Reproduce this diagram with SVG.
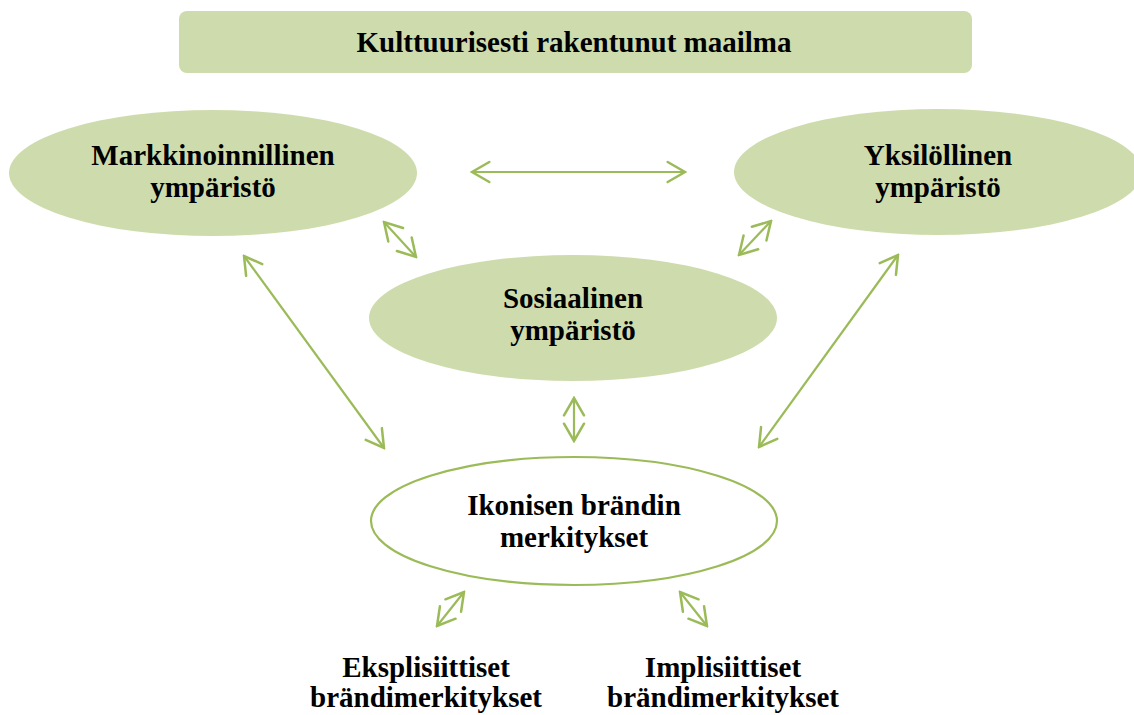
<svg xmlns="http://www.w3.org/2000/svg" width="1134" height="715" viewBox="0 0 1134 715">
  <style>
    .lbl { font-family: "Liberation Serif", "Times New Roman", serif; font-weight: bold; font-size: 29px; fill: #000; text-anchor: middle; }
    .env { fill: #cedcad; stroke: none; }
    .core { fill: #ffffff; stroke: #9bbb59; stroke-width: 2.2; }
    .link { stroke: #9bbb59; stroke-width: 2.2; fill: none; marker-start: url(#head); marker-end: url(#head); }
  </style>
  <defs>
    <marker id="head" markerUnits="userSpaceOnUse" viewBox="-20 -12 22 24" markerWidth="22" markerHeight="24" refX="0" refY="0" orient="auto-start-reverse">
      <path d="M-17.3,-10 L0,0 L-17.3,10" fill="none" stroke="#9bbb59" stroke-width="2.5" stroke-linecap="round" stroke-linejoin="miter"/>
    </marker>
  </defs>
  <rect width="1134" height="715" fill="#ffffff"/>

  <g id="world">
    <rect x="179" y="11" width="793" height="62" rx="8" class="env"/>
    <text class="lbl" x="574" y="52">Kulttuurisesti rakentunut maailma</text>
  </g>

  <g id="marketing">
    <ellipse cx="213" cy="173" rx="204" ry="63" class="env"/>
    <text class="lbl" x="213" y="165">Markkinoinnillinen</text>
    <text class="lbl" x="213" y="197">ympäristö</text>
  </g>

  <g id="individual">
    <ellipse cx="938" cy="172" rx="204" ry="63" class="env"/>
    <text class="lbl" x="938" y="165">Yksilöllinen</text>
    <text class="lbl" x="938" y="197">ympäristö</text>
  </g>

  <g id="social">
    <ellipse cx="573" cy="318" rx="204" ry="63" class="env"/>
    <text class="lbl" x="573" y="308">Sosiaalinen</text>
    <text class="lbl" x="573" y="340">ympäristö</text>
  </g>

  <g id="brand-meanings">
    <ellipse cx="574" cy="521" rx="203" ry="64" class="core"/>
    <text class="lbl" x="574" y="515">Ikonisen brändin</text>
    <text class="lbl" x="574" y="547">merkitykset</text>
  </g>

  <g id="explicit">
    <text class="lbl" x="426" y="677">Eksplisiittiset</text>
    <text class="lbl" x="426" y="707">brändimerkitykset</text>
  </g>

  <g id="implicit">
    <text class="lbl" x="723" y="677">Implisiittiset</text>
    <text class="lbl" x="723" y="707">brändimerkitykset</text>
  </g>

  <g id="connectors">
    <line class="link" x1="472" y1="172" x2="685" y2="172"/>
    <line class="link" x1="384" y1="222" x2="416" y2="257"/>
    <line class="link" x1="771" y1="221" x2="739" y2="255"/>
    <line class="link" x1="244" y1="256" x2="384" y2="448"/>
    <line class="link" x1="898" y1="255" x2="759" y2="447"/>
    <line class="link" x1="574" y1="398" x2="574" y2="441"/>
    <line class="link" x1="464" y1="592" x2="437" y2="626"/>
    <line class="link" x1="680" y1="592" x2="707" y2="626"/>
  </g>
</svg>
